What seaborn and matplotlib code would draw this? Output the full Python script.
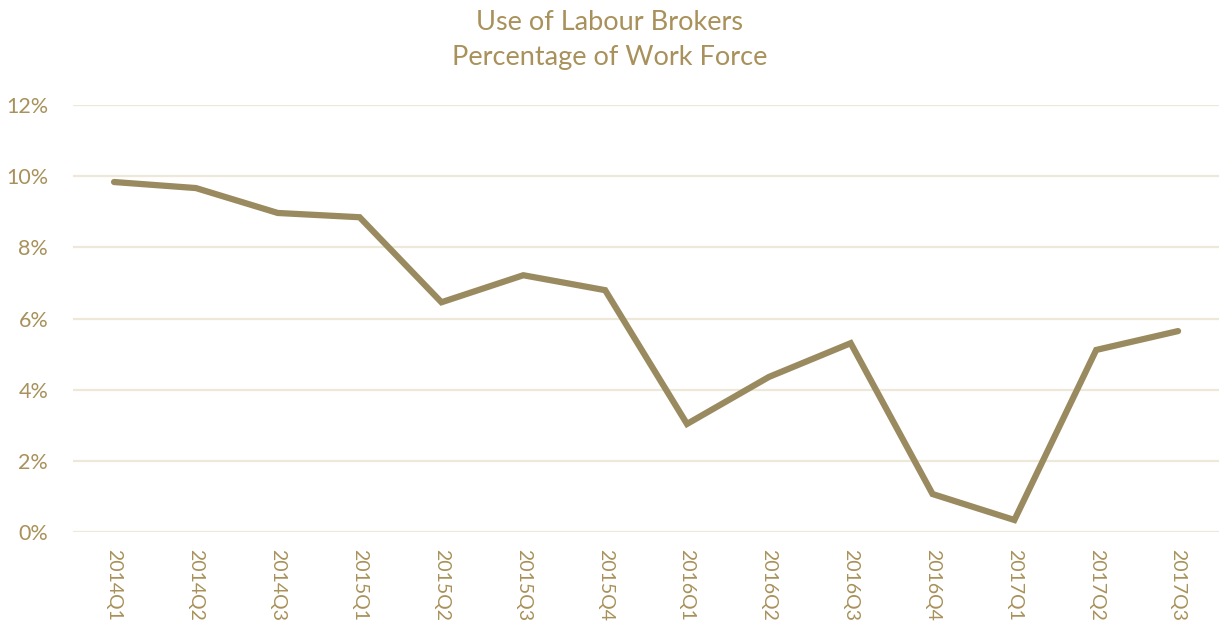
import pandas as pd
import matplotlib.pyplot as plt
import seaborn as sns
from matplotlib.ticker import PercentFormatter

quarters = ['2014Q1', '2014Q2', '2014Q3', '2015Q1', '2015Q2', '2015Q3', '2015Q4',
            '2016Q1', '2016Q2', '2016Q3', '2016Q4', '2017Q1', '2017Q2', '2017Q3']
broker_pct = [9.84, 9.67, 8.97, 8.85, 6.46, 7.22, 6.80,
              3.04, 4.36, 5.31, 1.07, 0.34, 5.12, 5.65]

df = pd.DataFrame({'quarter': quarters, 'pct': broker_pct})

sns.set_style('white')
plt.rcParams['font.family'] = ['Lato', 'DejaVu Sans']

gold = '#A8915A'
line_col = '#9A8A5F'
grid_col = '#EEE8D9'

fig = plt.figure(figsize=(12.19, 6.26), dpi=100)
ax = fig.add_axes([0.06, 0.15, 0.94, 0.682])

sns.lineplot(data=df, x='quarter', y='pct', ax=ax, color=line_col, linewidth=4.5,
             sort=False, solid_capstyle='round', solid_joinstyle='miter')

ax.set_xlim(-0.5, len(quarters) - 0.5)
ax.set_ylim(0, 12)
ax.set_yticks([0, 2, 4, 6, 8, 10, 12])
ax.yaxis.set_major_formatter(PercentFormatter(decimals=0))
ax.grid(axis='y', color=grid_col, linewidth=1.6)
ax.set_axisbelow(True)
for s in ax.spines.values():
    s.set_visible(False)
ax.tick_params(axis='y', length=0, pad=18, labelsize=15.5, labelcolor=gold)
ax.tick_params(axis='x', length=0, pad=12, labelsize=14, labelcolor=gold, labelrotation=-90)
ax.set_xlabel('')
ax.set_ylabel('')

fig.suptitle('Use of Labour Brokers\nPercentage of Work Force', color=gold,
             fontsize=19.5, y=0.984, va='top', linespacing=1.5)

fig.savefig('out.png', dpi=100)
